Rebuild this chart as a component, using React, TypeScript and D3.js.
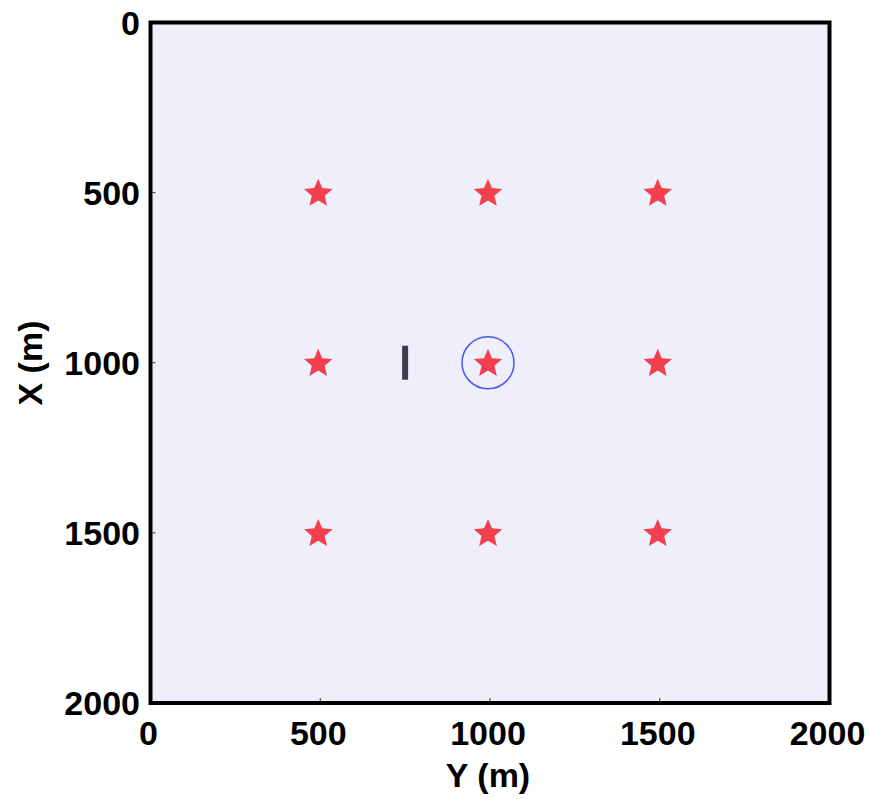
import React from "react";
import * as d3 from "d3";

const ticks = [0, 500, 1000, 1500, 2000];
const starY = [500, 1000, 1500, 500, 1000, 1500, 500, 1000, 1500];
const starX = [500, 500, 500, 1000, 1000, 1000, 1500, 1500, 1500];
const barPoint = { y: 750, x: 1000 };
const circlePoint = { y: 1000, x: 1000 };

export default function App() {
  const W = 870, H = 799;
  const left = 150.5, right = 829.5, top = 22.5, bottom = 703;
  const sx = d3.scaleLinear().domain([0, 2000]).range([left, right]);
  const sy = d3.scaleLinear().domain([0, 2000]).range([top, bottom]);
  const R = 15, r = 6.8;
  const starPts: [number, number][] = d3.range(10).map((i) => [(i * Math.PI) / 5, i % 2 === 0 ? R : r]);
  const starPath = (d3.lineRadial().curve(d3.curveLinearClosed) as any)(starPts) as string;
  const font = "'Liberation Sans', Arial, sans-serif";
  return (
    <svg width={W} height={H} style={{ position: "absolute", left: 0, top: 0 }}>
      <rect x={0} y={0} width={W} height={H} fill="#ffffff" />
      <rect x={left} y={top} width={right - left} height={bottom - top} fill="#efeffc" />
      {ticks.slice(1, -1).map((t) => (
        <g key={"t" + t}>
          <line x1={sx(t)} x2={sx(t)} y1={bottom - 2} y2={bottom - 5} stroke="#333" strokeWidth={1} />
          <line x1={left + 2} x2={left + 5} y1={sy(t)} y2={sy(t)} stroke="#333" strokeWidth={1} />
        </g>
      ))}
      {starX.map((x, i) => (
        <path key={i} d={starPath} transform={`translate(${sx(starY[i]) - 2},${sy(x) + 1})`} fill="#f2404f" />
      ))}
      <rect x={sx(barPoint.y) - 3} y={sy(barPoint.x) - 17} width={6} height={34} fill="#3c3c4a" />
      <circle cx={sx(circlePoint.y) - 2} cy={sy(circlePoint.x)} r={26} fill="none" stroke="#4a55f0" strokeWidth={1.5} />
      <rect x={left} y={top} width={right - left} height={bottom - top} fill="none" stroke="#000" strokeWidth={4} />
      {ticks.map((t) => (
        <text key={"x" + t} x={sx(t) - 2} y={745} textAnchor="middle" fontFamily={font} fontWeight="bold" fontSize={34} fill="#000">
          {t}
        </text>
      ))}
      {ticks.map((t) => (
        <text key={"y" + t} x={140} y={sy(t) + 12} textAnchor="end" fontFamily={font} fontWeight="bold" fontSize={34} fill="#000">
          {t}
        </text>
      ))}
      <text x={488} y={787} textAnchor="middle" fontFamily={font} fontWeight="bold" fontSize={34} fill="#000">
        Y (m)
      </text>
      <text transform={`translate(42,363) rotate(-90)`} textAnchor="middle" fontFamily={font} fontWeight="bold" fontSize={34} fill="#000">
        X (m)
      </text>
    </svg>
  );
}
